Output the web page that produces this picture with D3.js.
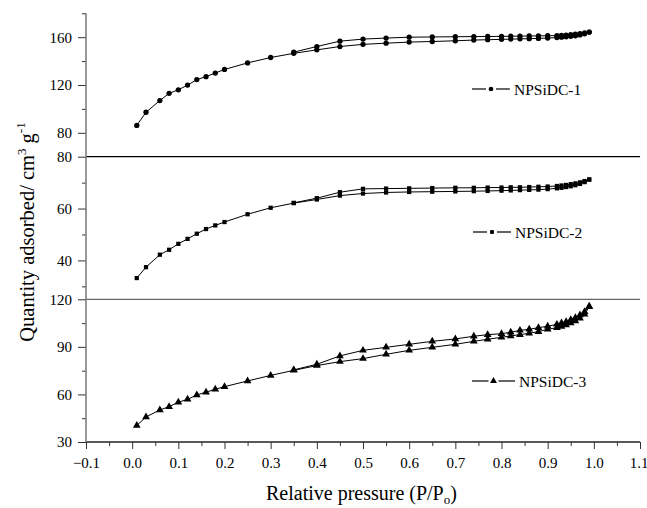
<!DOCTYPE html>
<html><head><meta charset="utf-8">
<script src="https://cdn.jsdelivr.net/npm/d3@7"></script>
<style>
html,body{margin:0;padding:0;background:#fff;}
svg text{font-family:"Liberation Serif","Times New Roman",Tinos,"DejaVu Serif","Noto Serif",serif;fill:#000;}
</style></head>
<body><svg id="c" width="647" height="508"></svg>
<script>
// ---- data ----
const adsP = [0.01,0.03,0.06,0.08,0.10,0.12,0.14,0.16,0.18,0.20,0.25,0.30,0.35,0.40,0.45,0.50,0.55,0.60,0.65,0.70,0.74,0.77,0.80,0.82,0.84,0.86,0.88,0.90,0.92,0.93,0.94,0.95,0.96,0.97,0.98,0.99];
const desP = [0.99,0.98,0.97,0.96,0.95,0.94,0.93,0.92,0.90,0.88,0.86,0.84,0.82,0.80,0.77,0.74,0.70,0.65,0.60,0.55,0.50,0.45,0.40,0.35];

const ads1 = [86.2,97.2,107,113,116,119.9,124.5,127,130,133,138.5,143,146.5,149.4,152.2,154,155,155.9,156.4,157,157.6,157.9,158.2,158.4,158.6,158.8,159,159.3,159.7,160,160.3,160.7,161.2,161.9,162.8,164.3];
const des1 = [164.3,163.6,163,162.5,162.1,161.8,161.6,161.4,161.2,161.1,161,160.9,160.8,160.7,160.6,160.5,160.4,160.2,160,159.3,158.4,156.7,152.2,147.5];

const ads2 = [33.2,37.4,42.2,44.1,46.4,48.3,50.3,52.1,53.5,54.8,57.8,60.3,62.1,63.5,65,65.8,66.2,66.4,66.5,66.6,66.7,66.8,66.9,67,67.1,67.2,67.3,67.5,67.8,68,68.3,68.6,69,69.5,70.2,71.2];
const des2 = [71.2,70.6,70.1,69.7,69.4,69.1,68.9,68.7,68.5,68.4,68.3,68.2,68.2,68.1,68.1,68,68,67.9,67.8,67.7,67.6,66.3,64,62.2];

const ads3 = [40.4,45.8,50.2,52.3,55.1,56.9,59.7,61.4,63.3,64.9,68.5,72,75.2,78.2,80.7,82.6,85.3,87.8,89.7,91.6,93.5,94.8,96,96.9,97.7,98.6,99.6,101.1,102.1,102.9,103.8,105,106.3,108,110.5,115.4];
const des3 = [115.4,112.2,110.1,108.4,107.1,105.9,105,104.2,103,102.1,101.1,100.4,99.2,98.3,97.7,96.7,95,93.5,91.6,89.7,87.8,84.3,79,75.5];

const seriesNames = ["NPSiDC-1","NPSiDC-2","NPSiDC-3"];
const xMajor = [-0.1,0,0.1,0.2,0.3,0.4,0.5,0.6,0.7,0.8,0.9,1.0,1.1];
const xMinor = [-0.05,0.05,0.15,0.25,0.35,0.45,0.55,0.65,0.75,0.85,0.95,1.05];
const yDomains = [[60,180],[25,80],[30,120]];
const yMajors = [[80,120,160],[40,60,80],[30,60,90,120]];
const yMinors = [[100,140,180],[30,50,70],[45,75,105]];

// ---- layout ----
const FONT = '"Liberation Serif","Times New Roman",Tinos,"DejaVu Serif",serif';
const svg = d3.select("#c");
const L = 86, R = 640;
const panels = [[13.3,156.7],[156.7,299.3],[299.3,442]];
const x = d3.scaleLinear().domain([-0.1,1.1]).range([L,R]);
const shapes = [d3.symbolCircle, d3.symbolSquare, d3.symbolTriangle];
const symSize = [22, 18, 26];
const adsAll = [ads1,ads2,ads3], desAll=[des1,des2,des3];
const legendPos = [[472,89,514],[473,232,515],[472,381,519]];

panels.forEach((p,i)=>{
  const y = d3.scaleLinear().domain(yDomains[i]).range([p[1],p[0]]);
  const gMaj = svg.append("g").attr("transform",`translate(${L},0)`)
    .call(d3.axisLeft(y).tickValues(yMajors[i]).tickSize(8).tickPadding(6).tickFormat(d3.format("d")));
  gMaj.attr("font-family",FONT);
  gMaj.select(".domain").remove();
  gMaj.selectAll("text").attr("font-family",FONT).style("font-size","15px");
  gMaj.selectAll("line").attr("stroke","#333");
  const gMin = svg.append("g").attr("transform",`translate(${L},0)`)
    .call(d3.axisLeft(y).tickValues(yMinors[i]).tickSize(4).tickFormat(""));
  gMin.select(".domain").remove();
  gMin.selectAll("line").attr("stroke","#333");
  svg.append("line").attr("x1",L).attr("x2",R).attr("y1",p[1]).attr("y2",p[1])
    .attr("stroke", i===0 ? "#000" : (i===1 ? "#666" : "#222")).attr("stroke-width",1.3);

  const pts = adsP.map((v,j)=>[v,adsAll[i][j]]).concat(desP.map((v,j)=>[v,desAll[i][j]]));
  const line = d3.line().x(d=>x(d[0])).y(d=>y(d[1]));
  svg.append("path").attr("d",line(pts)).attr("fill","none").attr("stroke","#000").attr("stroke-width",1);
  const sym = d3.symbol().type(shapes[i]).size(symSize[i]);
  svg.append("g").selectAll("path").data(pts).join("path")
    .attr("transform",d=>`translate(${x(d[0])},${y(d[1])})`).attr("d",sym).attr("fill","#000");

  const [lx,ly,tx] = legendPos[i];
  const segEnd = tx-4;
  const mid = (lx+segEnd)/2;
  svg.append("line").attr("x1",lx).attr("x2",mid-5).attr("y1",ly).attr("y2",ly).attr("stroke","#000").attr("stroke-width",1.2);
  svg.append("line").attr("x1",mid+5).attr("x2",segEnd).attr("y1",ly).attr("y2",ly).attr("stroke","#000").attr("stroke-width",1.2);
  svg.append("path").attr("transform",`translate(${mid},${ly})`).attr("d",d3.symbol().type(shapes[i]).size(symSize[i]*0.8)()).attr("fill","#000");
  svg.append("text").attr("x",tx).attr("y",ly+5.5).attr("font-family",FONT).style("font-size","15.5px").text(seriesNames[i]);
});

svg.append("line").attr("x1",L).attr("x2",L).attr("y1",13.3).attr("y2",442).attr("stroke","#777").attr("stroke-width",1.5);

const gx = svg.append("g").attr("transform","translate(0,442)")
  .call(d3.axisBottom(x).tickValues(xMajor).tickSize(7).tickPadding(8).tickFormat(d3.format(".1f")));
gx.attr("font-family",FONT);
gx.select(".domain").remove();
gx.selectAll("text").attr("font-family",FONT).style("font-size","15px");
gx.selectAll("line").attr("stroke","#333");
gx.selectAll(".tick").filter(d=>d===1.1).select("text").attr("text-anchor","end").attr("dx","8");
const gx2 = svg.append("g").attr("transform","translate(0,442)")
  .call(d3.axisBottom(x).tickValues(xMinor).tickSize(4).tickFormat(""));
gx2.select(".domain").remove();
gx2.selectAll("line").attr("stroke","#333");

const xt = svg.append("text").attr("x",266).attr("y",500).attr("font-family",FONT).style("font-size","20px");
xt.append("tspan").text("Relative pressure (P/P");
xt.append("tspan").attr("dy",4).style("font-size","13px").text("o");
xt.append("tspan").attr("dy",-4).text(")");

const yt = svg.append("text").attr("transform","translate(34,232) rotate(-90)").attr("text-anchor","middle").attr("font-family",FONT).style("font-size","20.5px");
yt.append("tspan").text("Quantity adsorbed/ cm");
yt.append("tspan").attr("dy",-8).style("font-size","13px").text("3");
yt.append("tspan").attr("dy",8).text(" g");
yt.append("tspan").attr("dy",-9).style("font-size","13px").text("-1");
</script></body></html>
